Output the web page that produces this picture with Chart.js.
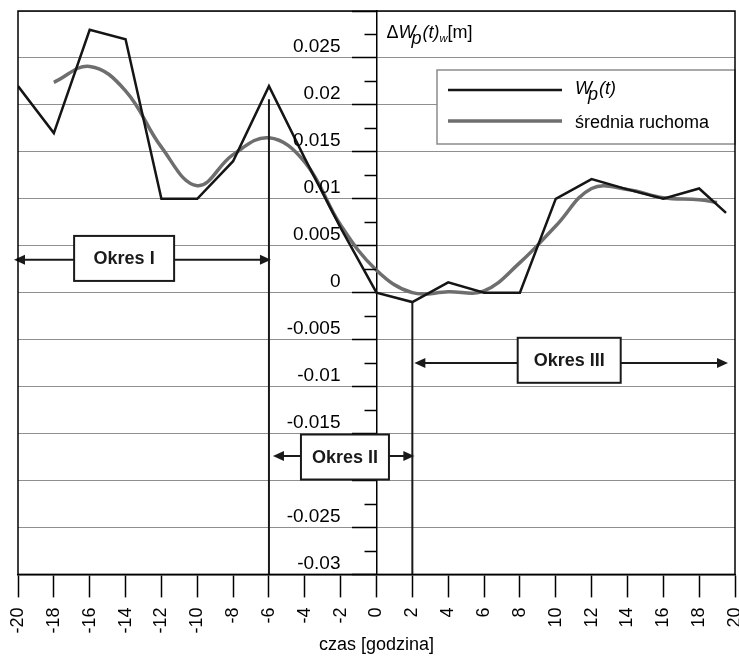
<!DOCTYPE html>
<html>
<head>
<meta charset="utf-8">
<script src="https://cdn.jsdelivr.net/npm/chart.js@4"></script>
<style>
  html, body { margin: 0; padding: 0; background: #fff; }
  #wrap { width: 739px; height: 657px; }
</style>
</head>
<body>
<div id="wrap"><canvas id="chart" width="739" height="657"></canvas></div>
<script>
// ---- data ----
const hoursWp = [-20, -18, -16, -14, -12, -10, -8, -6, -4, -2, 0, 2, 4, 6, 8, 10, 12, 14, 16, 18, 19.5];
const wpValues = [0.022, 0.017, 0.028, 0.027, 0.010, 0.010, 0.014, 0.022, 0.0143, 0.0069, 0, -0.001, 0.0011, 0, 0, 0.010, 0.0121, 0.011, 0.010, 0.0111, 0.0085];

const hoursAvg = [-18, -16, -14, -12, -10, -8, -6, -4, -2, 0, 2, 4, 6, 8, 10, 12, 14, 16, 18, 19];
const avgValues = [0.0224, 0.0241, 0.0215, 0.0155, 0.0114, 0.0147, 0.0165, 0.0139, 0.0072, 0.0024, 0.0000, 0.0001, 0.0002, 0.0032, 0.0071, 0.0111, 0.0110, 0.0101, 0.0099, 0.0096];

const xTickValues = [-20, -18, -16, -14, -12, -10, -8, -6, -4, -2, 0, 2, 4, 6, 8, 10, 12, 14, 16, 18, 20];
const hiddenYLabels = [0.03, -0.02];

const periodNames = ['Okres I', 'Okres II', 'Okres III'];
const periodBounds = [-20, -6, 2, 20];
const seriesNames = ['Wp(t)', 'średnia ruchoma'];

const FONT = "'Liberation Sans', Arial, sans-serif";
Chart.defaults.font.family = FONT;
Chart.defaults.color = '#000';

// arrows with a label box in the middle
function drawArrow(ctx, x1, x2, y) {
    ctx.beginPath();
    ctx.moveTo(x1 + 9, y);
    ctx.lineTo(x2 - 9, y);
    ctx.stroke();
    ctx.beginPath();
    ctx.moveTo(x1, y); ctx.lineTo(x1 + 11, y - 5); ctx.lineTo(x1 + 11, y + 5); ctx.closePath();
    ctx.moveTo(x2, y); ctx.lineTo(x2 - 11, y - 5); ctx.lineTo(x2 - 11, y + 5); ctx.closePath();
    ctx.fill();
}

function drawLabelBox(ctx, cx, cy, w, h, text) {
    ctx.fillStyle = '#fff';
    ctx.fillRect(cx - w / 2, cy - h / 2, w, h);
    ctx.lineWidth = 2;
    ctx.strokeRect(cx - w / 2, cy - h / 2, w, h);
    ctx.fillStyle = '#1a1a1a';
    ctx.font = 'bold 18px ' + FONT;
    ctx.textAlign = 'center';
    ctx.textBaseline = 'middle';
    ctx.fillText(text, cx, cy + 1);
}

// italic W with a lowered p, then "(t)"
function drawWp(ctx, x, y, size) {
    ctx.textAlign = 'left';
    ctx.textBaseline = 'alphabetic';
    ctx.font = 'italic ' + size + 'px ' + FONT;
    ctx.fillText('W', x, y);
    x += ctx.measureText('W').width - 4;
    ctx.fillText('p', x, y + 6);
    x += ctx.measureText('p').width + 1;
    ctx.fillText('(t)', x, y);
    return x + ctx.measureText('(t)').width;
}

const yLabel = v => {
    const r = +v.toFixed(4);
    if (hiddenYLabels.some(h => Math.abs(h - r) < 1e-6)) return '';
    return String(r);
};

const periodsPlugin = {
    id: 'periods',
    afterDatasetsDraw(chart) {
        const { ctx, chartArea: a, scales: { x, y } } = chart;
        const axisX = x.getPixelForValue(0);
        ctx.save();

        // y tick labels, left of the axis and a bit above their gridline
        ctx.fillStyle = '#000';
        ctx.font = '19px ' + FONT;
        ctx.textAlign = 'right';
        ctx.textBaseline = 'middle';
        y.ticks.forEach(t => {
            ctx.fillText(yLabel(t.value), axisX - 36, y.getPixelForValue(t.value) - 11);
        });

        // minor ticks on the y axis
        ctx.strokeStyle = '#000';
        ctx.lineWidth = 1.5;
        for (let k = 0; k < 12; k++) {
            const py = Math.round(y.getPixelForValue(-0.0275 + k * 0.005)) + 0.5;
            ctx.beginPath();
            ctx.moveTo(axisX - 12, py);
            ctx.lineTo(axisX, py);
            ctx.stroke();
        }

        // period boundaries
        ctx.lineWidth = 2;
        ctx.strokeStyle = '#1a1a1a';
        const bx = periodBounds.map(v => x.getPixelForValue(v));
        [[1, 0.0206], [2, -0.001]].forEach(([i, top]) => {
            ctx.beginPath();
            ctx.moveTo(bx[i], y.getPixelForValue(top));
            ctx.lineTo(bx[i], a.bottom);
            ctx.stroke();
        });

        // period arrows and boxes
        const arrows = [
            { l: bx[0] - 4, r: bx[1] + 2, y: 0.0035, cx: -14.08, cy: 0.00365, w: 100 },
            { l: bx[1] + 4, r: bx[2] + 2, y: -0.0174, cx: -1.76, cy: -0.0175, w: 88 },
            { l: bx[2] + 2, r: bx[3] - 7, y: -0.0075, cx: 10.75, cy: -0.0072, w: 103 }
        ];
        arrows.forEach((p, i) => {
            ctx.fillStyle = '#1a1a1a';
            ctx.strokeStyle = '#1a1a1a';
            ctx.lineWidth = 2;
            drawArrow(ctx, p.l, p.r, y.getPixelForValue(p.y));
            drawLabelBox(ctx, x.getPixelForValue(p.cx), y.getPixelForValue(p.cy), p.w, 45, periodNames[i]);
        });

        // legend
        const lx = 437, ly = 70, lw = a.right - lx, lh = 74;
        ctx.fillStyle = '#fff';
        ctx.fillRect(lx, ly, lw, lh);
        ctx.strokeStyle = '#8c8c8c';
        ctx.lineWidth = 1.5;
        ctx.strokeRect(lx, ly, lw, lh);
        chart.data.datasets.forEach((ds, i) => {
            const yy = ly + 20 + i * 31;
            ctx.strokeStyle = ds.borderColor;
            ctx.lineWidth = ds.borderWidth;
            ctx.beginPath();
            ctx.moveTo(lx + 11, yy);
            ctx.lineTo(lx + 125, yy);
            ctx.stroke();
        });
        ctx.fillStyle = '#000';
        drawWp(ctx, lx + 138, ly + 24, 18);
        ctx.font = '18px ' + FONT;
        ctx.fillText(seriesNames[1], lx + 138, ly + 58);

        // y axis title
        let tx = axisX + 10;
        const ty = a.top + 27;
        ctx.font = '18px ' + FONT;
        ctx.fillText('Δ', tx, ty);
        tx += ctx.measureText('Δ').width;
        tx = drawWp(ctx, tx, ty, 18);
        ctx.font = 'italic 11px ' + FONT;
        ctx.fillText('w', tx, ty + 4);
        tx += ctx.measureText('w').width;
        ctx.font = '18px ' + FONT;
        ctx.fillText('[m]', tx, ty);

        // plot frame
        ctx.strokeStyle = '#000';
        ctx.lineWidth = 1.5;
        ctx.strokeRect(a.left, a.top, a.right - a.left, a.bottom - a.top);
        ctx.restore();
    }
};

new Chart(document.getElementById('chart'), {
    type: 'line',
    data: {
        datasets: [
            {
                label: seriesNames[0],
                data: hoursWp.map((h, i) => ({ x: h, y: wpValues[i] })),
                borderColor: '#151515',
                borderWidth: 2.5,
                pointRadius: 0,
                tension: 0
            },
            {
                label: seriesNames[1],
                data: hoursAvg.map((h, i) => ({ x: h, y: avgValues[i] })),
                borderColor: '#6e6e6e',
                borderWidth: 3.5,
                pointRadius: 0,
                tension: 0.4
            }
        ]
    },
    options: {
        responsive: false,
        animation: false,
        layout: { padding: { left: 18, top: 11, right: 4, bottom: 1 } },
        plugins: { legend: { display: false }, tooltip: { enabled: false } },
        scales: {
            x: {
                type: 'linear',
                min: -20,
                max: 20,
                afterBuildTicks: s => { s.ticks = xTickValues.map(v => ({ value: v })); },
                afterFit: s => { s.paddingLeft = 0; s.paddingRight = 0; s.height -= 11; },
                ticks: { autoSkip: false, minRotation: 90, maxRotation: 90, padding: 10, color: '#000', font: { size: 18 } },
                grid: { drawOnChartArea: false, tickLength: 23, tickColor: '#000', tickWidth: 1.5 },
                border: { color: '#000', width: 1.5 },
                title: { display: true, text: 'czas [godzina]', color: '#000', font: { size: 18 }, padding: { top: 2, bottom: 0 } }
            },
            y: {
                type: 'linear',
                min: -0.03,
                max: 0.03,
                position: { x: 0 },
                afterFit: s => { s.paddingTop = 0; s.paddingBottom = 0; },
                ticks: { stepSize: 0.005, display: false },
                grid: { color: '#8f8f8f', lineWidth: 1, tickLength: 24, tickColor: '#000', tickWidth: 1.5 },
                border: { color: '#000', width: 1.5 }
            }
        }
    },
    plugins: [periodsPlugin]
});
</script>
</body>
</html>
